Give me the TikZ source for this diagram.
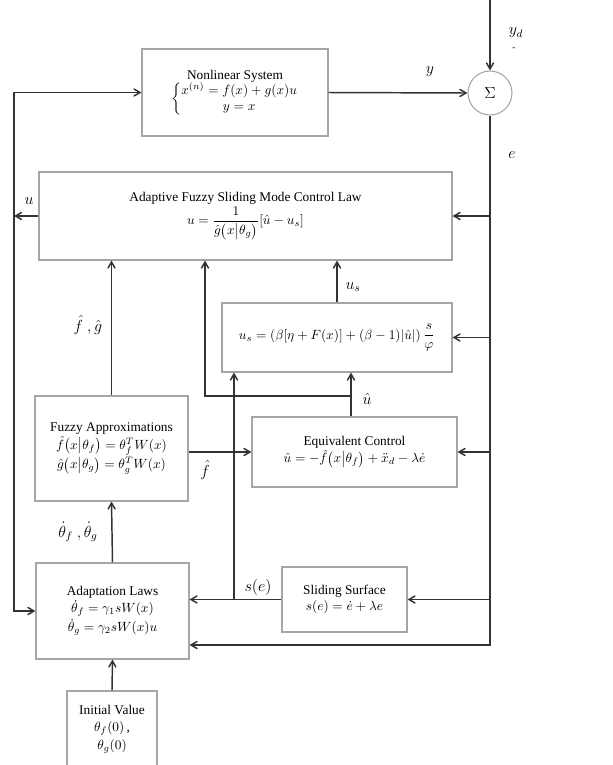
\documentclass[tikz,border=0pt]{standalone}
\usepackage{amsmath,amssymb}
\usepackage{fontspec}
\setmainfont{Liberation Serif}
\usetikzlibrary{arrows}
\tikzset{
  boite/.style={draw=gray!70, line width=0.8pt, align=center, inner sep=2pt},
  lien/.style={draw=black!80, line width=1.1pt, ->, >=angle 60},
  etiq/.style={font=\large}
}
\begin{document}
\begin{tikzpicture}[x=0.75pt, y=-0.75pt]
	\useasboundingbox (0,0) rectangle (613,765);
	\clip (0,0) rectangle (613,765);
	%les blocs
	\node[boite, minimum width=139.5pt, minimum height=65.25pt] (sys) at (235,92.5)
		{Nonlinear System\\[-1pt] $\left\{\begin{array}{@{}c@{}} x^{(n)}=f(x)+g(x)u\\ y=x\end{array}\right.$};
	\node[boite, circle, minimum size=33pt, inner sep=0pt, font=\large] (sum) at (490,93) {$\Sigma$};
	\node[boite, minimum width=309.75pt, minimum height=66pt] (law) at (245.5,216)
		{Adaptive Fuzzy Sliding Mode Control Law\\[1pt] $u=\dfrac{1}{\hat{g}\bigl(x\big|\theta_g\bigr)}[\hat{u}-u_s]$};
	\node[boite, minimum width=172.5pt, minimum height=51.75pt] (us) at (337,337.5)
		{$u_s=(\beta[\eta+F(x)]+(\beta-1)|\hat{u}|)\,\dfrac{s}{\varphi}$};
	\node[boite, minimum width=114.75pt, minimum height=78.75pt] (fuzzy) at (111.5,448.5)
		{Fuzzy Approximations\\[1pt] $\hat{f}\bigl(x\big|\theta_f\bigr)=\theta_f^TW(x)$\\[1pt] $\hat{g}\bigl(x\big|\theta_g\bigr)=\theta_g^TW(x)$};
	\node[boite, minimum width=153.75pt, minimum height=52.5pt] (equiv) at (354.5,452)
		{Equivalent Control\\[1pt] $\hat{u}=-\hat{f}\bigl(x\big|\theta_f\bigr)+\ddot{x}_d-\lambda\dot{e}$};
	\node[boite, minimum width=114.75pt, minimum height=72pt] (adapt) at (112.5,611)
		{Adaptation Laws\\[1pt] $\dot{\theta}_f=\gamma_1sW(x)$\\[1pt] $\dot{\theta}_g=\gamma_2sW(x)u$};
	\node[boite, minimum width=93.75pt, minimum height=48.75pt] (slide) at (344.5,599.5)
		{Sliding Surface\\ $s(e)=\dot{e}+\lambda e$};
	\node[boite, minimum width=67.5pt, minimum height=57pt] (init) at (112,729)
		{Initial Value\\[1pt] $\theta_f(0)$\,,\\[1pt] $\theta_g(0)$};
	%les points de passage
	\coordinate (yd) at (490,0);
	\coordinate (lbus) at (14,0);
	\coordinate (ebot) at (0,645);
	\coordinate (uh) at (351,396);
	\coordinate (uhl) at (205,396);
	\coordinate (sb) at (234,600);
	%les liaisons
	\draw[lien] (yd) -- (sum.north);
	\draw[lien] (sys.east) -- (sum.west);
	\draw[lien] (sum.south) |- (adapt.east |- ebot);
	\draw[lien] (sum.south |- law.east) -- (law.east);
	\draw[lien] (sum.south |- us.east) -- (us.east);
	\draw[lien] (sum.south |- equiv.east) -- (equiv.east);
	\draw[lien] (sum.south |- slide.east) -- (slide.east);
	\draw[lien] (law.west) -- (lbus |- law.west);
	\draw[lien] (lbus |- law.west) |- (sys.west);
	\draw[lien] (lbus |- law.west) |- (adapt.west);
	\draw[lien] (fuzzy.north) -- (fuzzy.north |- law.south);
	\draw[lien] (us.north) -- (us.north |- law.south);
	\draw[lien] (uh |- equiv.north) -- (uh |- us.south);
	\draw[lien] (uh) -- (uhl) -- (uhl |- law.south);
	\draw[lien] (fuzzy.east |- equiv.west) -- (equiv.west);
	\draw[lien] (adapt.north) -- (fuzzy.south);
	\draw[lien] (init.north) -- (adapt.south);
	\draw[lien] (slide.west) -- (slide.west -| adapt.east);
	\draw[lien] (sb) -- (sb |- us.south);
	%les etiquettes
	\node[etiq] (l-yd) at (516,33) {$y_d$};
	\node[font=\scriptsize] (l-moins) at (514,49) {-};
	\node[etiq] (l-y) at (430,72) {$y$};
	\node[etiq] (l-e) at (512,155) {$e$};
	\node[etiq] (l-u) at (29,201) {$u$};
	\node[etiq] (l-us) at (353,287) {$u_s$};
	\node[etiq] (l-fg) at (88,325) {$\hat{f}\ ,\hat{g}$};
	\node[etiq] (l-uh) at (367,399) {$\hat{u}$};
	\node[etiq] (l-f) at (205,470) {$\hat{f}$};
	\node[etiq] (l-th) at (78,532) {$\dot{\theta}_f\ ,\dot{\theta}_g$};
	\node[etiq] (l-se) at (258,587) {$s(e)$};
\end{tikzpicture}
\end{document}
